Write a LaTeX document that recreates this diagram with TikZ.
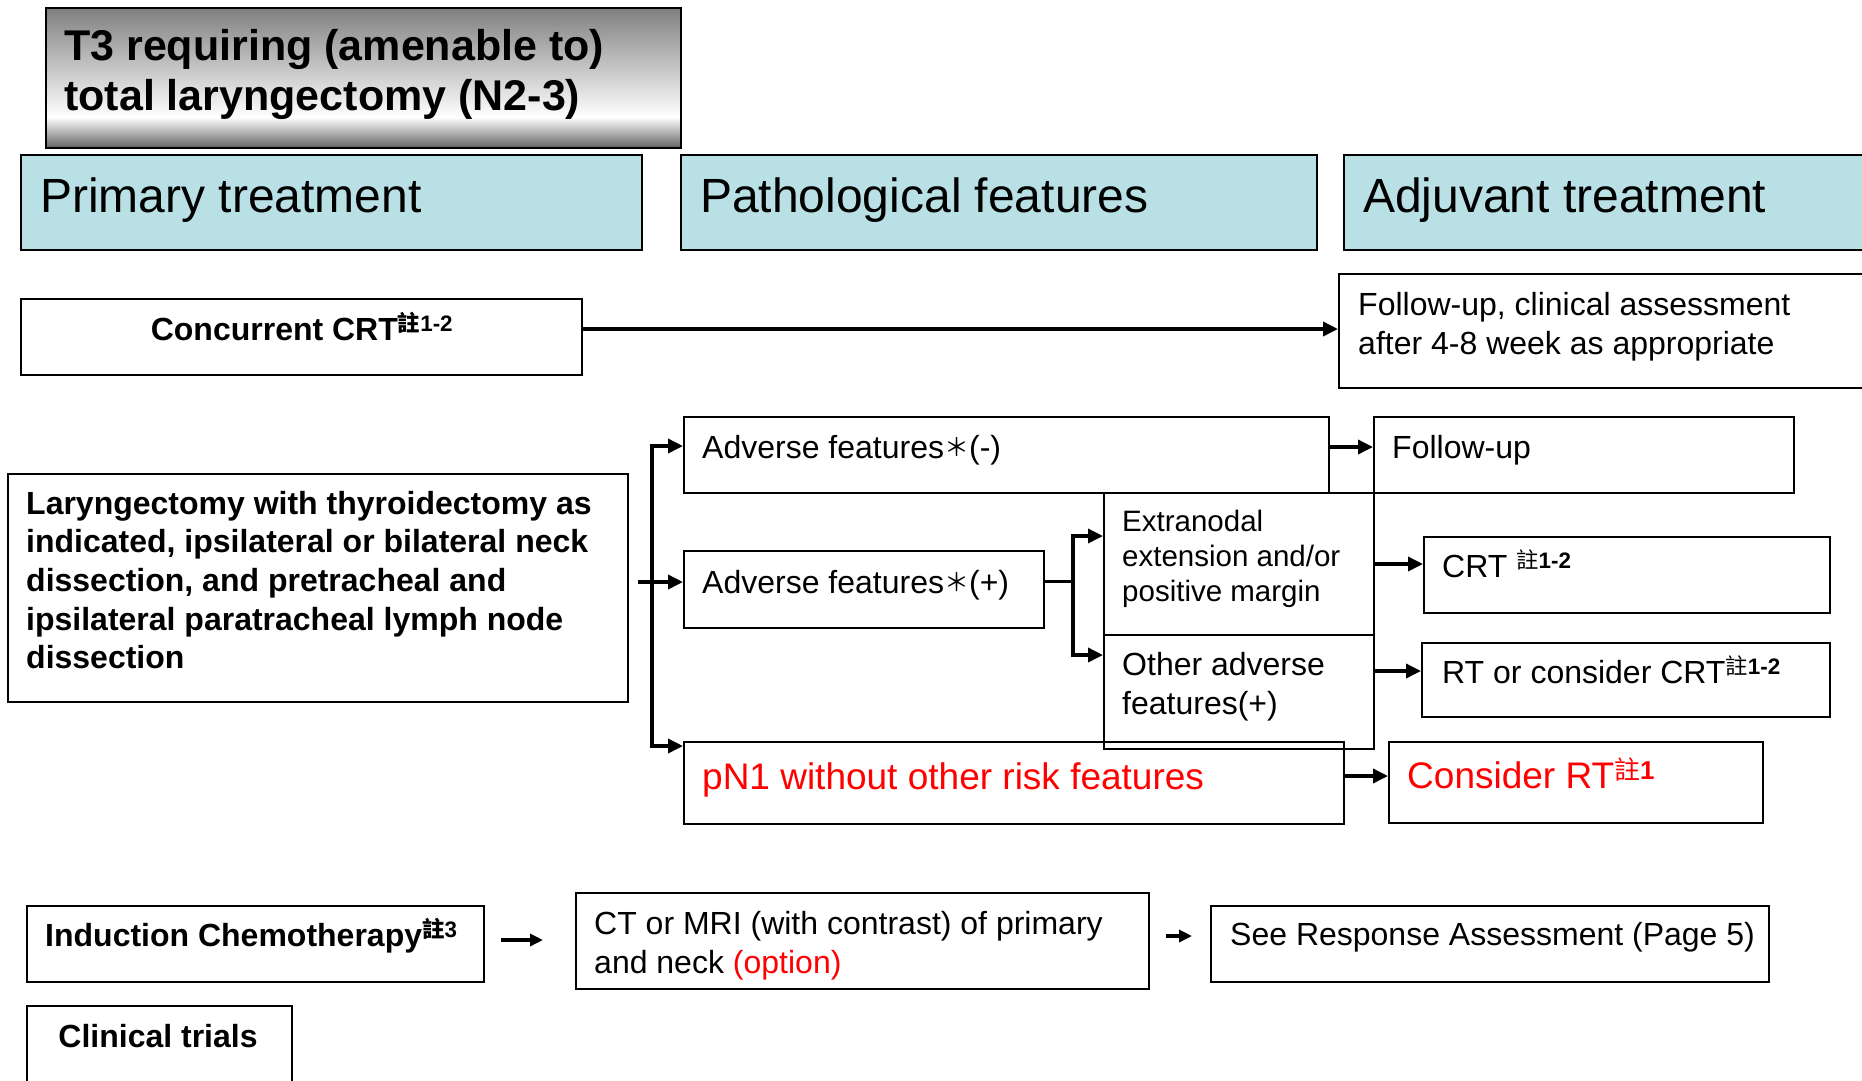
\documentclass[tikz,border=0pt]{standalone}
\usepackage{fontspec}
\setmainfont{Liberation Sans}
\newfontfamily\cjk{Noto Sans CJK TC}
\usetikzlibrary{arrows.meta,calc}
\definecolor{hdblue}{RGB}{185,224,228}
\pgfdeclareverticalshading{ttlshade}{100bp}{color(0bp)=(black!62); color(25bp)=(black!62); color(36bp)=(white); color(75bp)=(black!50); color(100bp)=(black!50)}
\newcommand\zhu[1]{\textsuperscript{{\cjk 註}\textbf{#1}}}
\newcommand\advstar{\raisebox{2pt}{\fontsize{25}{25}\selectfont\cjk ＊}}
\tikzset{
  box/.style={draw, line width=2pt, inner sep=0pt, anchor=north west},
  hdbox/.style={box, fill=hdblue},
  txt/.style={inner sep=0pt, anchor=west, align=left, font=\fontsize{32}{39}\selectfont},
  btxt/.style={txt, font=\fontsize{32}{38.6}\selectfont\bfseries},
  stxt/.style={txt, font=\fontsize{29.5}{35}\selectfont},
  rtxt/.style={txt, text=red, font=\fontsize{37}{44}\selectfont},
  hdtxt/.style={txt, font=\fontsize{48}{56}\selectfont},
  ttl/.style={txt, font=\fontsize{43}{50}\selectfont\bfseries},
  arr/.style={line width=3.5pt, -{Triangle[length=15pt,width=14pt]}},
  arrtwo/.style={line width=3.5pt, {Triangle[length=15pt,width=14pt]}-{Triangle[length=15pt,width=14pt]}},
  arrs/.style={line width=3.5pt, -{Triangle[length=13pt,width=12pt]}},
  lnk/.style={line width=3.5pt}
}
\begin{document}
\begin{tikzpicture}[x=1pt,y=-1pt]
\useasboundingbox (0,0) rectangle (1862,1080);
% title
\node[box, shading=ttlshade, minimum width=635pt, minimum height=140pt] (title) at (45,7) {};
\node[ttl] (ttitle) at (64,74) {T3 requiring (amenable to)\\total laryngectomy (N2-3)};
% column heads
\node[hdbox, minimum width=621pt, minimum height=95pt] (hprim) at (20,154) {};
\node[hdtxt] (thprim) at (40,200) {Primary treatment};
\node[hdbox, minimum width=636pt, minimum height=95pt] (hpath) at (680,154) {};
\node[hdtxt] (thpath) at (700,200) {Pathological features};
\node[hdbox, minimum width=540pt, minimum height=95pt] (hadj) at (1343,154) {};
\node[hdtxt] (thadj) at (1363,200) {Adjuvant treatment};
% concurrent CRT
\node[box, minimum width=561pt, minimum height=76pt] (ccrt) at (20,298) {};
\node[btxt, anchor=center] (tccrt) at (302,326) {Concurrent CRT\zhu{1-2}};
\node[box, minimum width=540pt, minimum height=114pt] (fuca) at (1338,273) {};
\node[txt] (tfuca) at (1358,327) {Follow-up, clinical assessment\\after 4-8 week as appropriate};
% surgery
\node[box, minimum width=620pt, minimum height=228pt] (lary) at (7,473) {};
\node[btxt] (tlary) at (26,580) {Laryngectomy with thyroidectomy as\\indicated, ipsilateral or bilateral neck\\dissection, and pretracheal and\\ipsilateral paratracheal lymph node\\dissection};
\node[box, minimum width=645pt, minimum height=76pt] (advn) at (683,416) {};
\node[txt] (tadvn) at (702,450) {Adverse features\advstar(-)};
\node[box, minimum width=360pt, minimum height=77pt] (advp) at (683,550) {};
\node[txt] (tadvp) at (702,585) {Adverse features\advstar(+)};
\node[box, minimum width=660pt, minimum height=82pt] (pn) at (683,741) {};
\node[rtxt] (tpn) at (702,780) {pN1 without other risk features};
\node[box, minimum width=270pt, minimum height=142pt] (extra) at (1103,492) {};
\node[stxt] (textra) at (1122,559) {Extranodal\\extension and/or\\positive margin};
\node[box, minimum width=270pt, minimum height=114pt] (other) at (1103,634) {};
\node[txt] (tother) at (1122,687) {Other adverse\\features(+)};
% adjuvant
\node[box, minimum width=420pt, minimum height=76pt] (fu) at (1373,416) {};
\node[txt] (tfu) at (1392,450) {Follow-up};
\node[box, minimum width=406pt, minimum height=76pt] (crt) at (1423,536) {};
\node[txt] (tcrt) at (1442,564) {CRT \zhu{1-2}};
\node[box, minimum width=408pt, minimum height=74pt] (rtc) at (1421,642) {};
\node[txt] (trtc) at (1442,670) {RT or consider CRT\zhu{1-2}};
\node[box, minimum width=374pt, minimum height=81pt] (conrt) at (1388,741) {};
\node[rtxt] (tconrt) at (1407,773) {Consider RT\zhu{1}};
% induction
\node[box, minimum width=457pt, minimum height=76pt] (ind) at (26,905) {};
\node[btxt] (tind) at (45,936) {Induction Chemotherapy\zhu{3}};
\node[box, minimum width=573pt, minimum height=96pt] (ctmri) at (575,892) {};
\node[txt] (tctmri) at (594,946) {CT or MRI (with contrast) of primary\\and neck \textcolor{red}{(option)}};
\node[box, minimum width=558pt, minimum height=76pt] (see) at (1210,905) {};
\node[txt] (tsee) at (1230,937) {See Response Assessment (Page 5)};
\node[box, minimum width=265pt, minimum height=90pt] (clin) at (26,1005) {};
\node[btxt, anchor=center] (tclin) at (158,1036) {Clinical trials};
% connectors
\coordinate (bt) at (652,446);
\coordinate (bb) at (652,746);
\coordinate (st) at (1073,536);
\coordinate (sb) at (1073,655);
\draw[arr] ([yshift=8pt]ccrt.east) -- ([yshift=8pt]ccrt.east -| fuca.west);
\draw[arrtwo] (bt -| advn.west) -- (bt) -- (bb) -- (bb -| pn.west);
\draw[arr] ([xshift=9pt,yshift=6pt]lary.east) -- ([yshift=6pt]lary.east -| advp.west);
\draw[lnk] ([yshift=8pt]advp.east) -- ([yshift=8pt]advp.east -| st);
\draw[arrtwo] (st -| extra.west) -- (st) -- (sb) -- (sb -| other.west);
\draw[arr] ([yshift=8pt]advn.east) -- ([yshift=8pt]advn.east -| fu.west);
\draw[arr] (extra.east) -- (extra.east -| crt.west);
\draw[arr] ([yshift=21pt]other.east) -- ([yshift=21pt]other.east -| rtc.west);
\draw[arr] ([yshift=7pt]pn.east) -- ([yshift=7pt]pn.east -| conrt.west);
\draw[arrs] ([xshift=16pt,yshift=4pt]ind.east) -- ($([yshift=4pt]ind.east -| ctmri.west)+(-32,0)$);
\draw[arrs] ([xshift=16pt,yshift=5pt]ctmri.east) -- ($([yshift=5pt]ctmri.east -| see.west)+(-18,0)$);
\end{tikzpicture}
\end{document}
